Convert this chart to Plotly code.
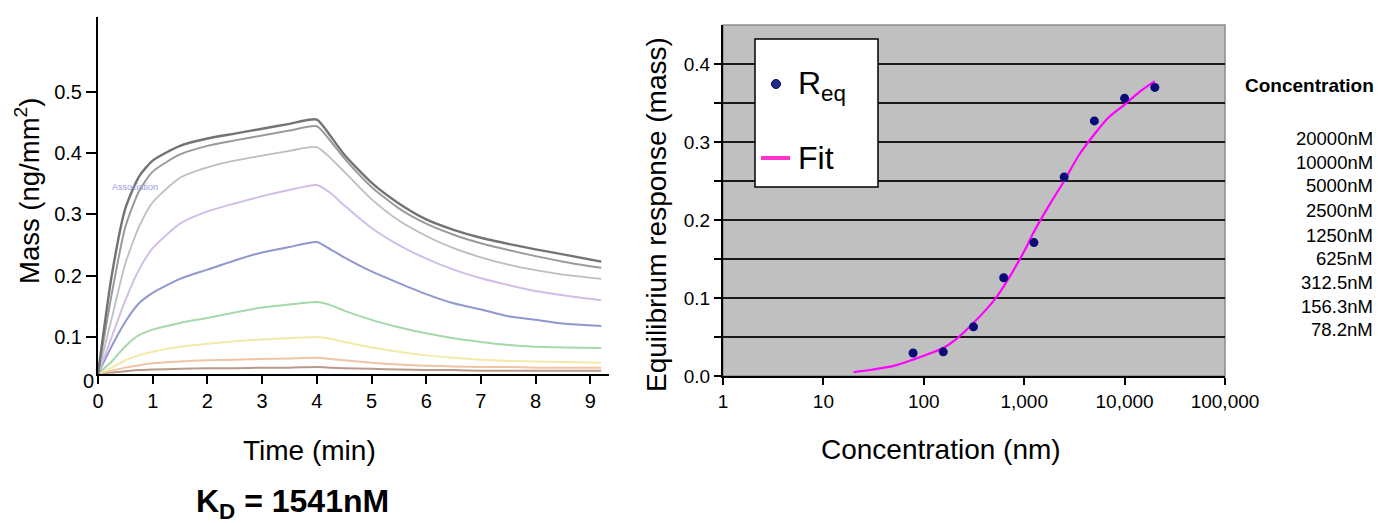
import plotly.graph_objects as go

W, H = 1378, 523

# ---------------- Left panel: sensorgrams ----------------
time_min = [0, 0.25, 0.5, 0.75, 1, 1.5, 2, 2.5, 3, 3.5, 4, 4.25, 4.5, 5, 5.5, 6, 6.5, 7, 7.5, 8, 8.5, 9.2]

mass_20000 = [0.040, 0.200, 0.310, 0.362, 0.388, 0.412, 0.424, 0.432, 0.440, 0.448, 0.455, 0.428, 0.398, 0.352, 0.318, 0.292, 0.275, 0.262, 0.252, 0.243, 0.235, 0.223]
mass_10000 = [0.040, 0.170, 0.280, 0.338, 0.370, 0.398, 0.412, 0.421, 0.429, 0.437, 0.444, 0.420, 0.392, 0.345, 0.310, 0.285, 0.267, 0.253, 0.242, 0.232, 0.223, 0.213]
mass_5000 = [0.040, 0.130, 0.220, 0.280, 0.320, 0.360, 0.377, 0.388, 0.396, 0.404, 0.410, 0.392, 0.370, 0.325, 0.290, 0.265, 0.245, 0.230, 0.218, 0.209, 0.202, 0.195]
mass_2500 = [0.040, 0.100, 0.160, 0.210, 0.245, 0.285, 0.305, 0.318, 0.330, 0.340, 0.348, 0.335, 0.315, 0.278, 0.250, 0.228, 0.210, 0.196, 0.185, 0.175, 0.168, 0.160]
mass_1250 = [0.040, 0.085, 0.125, 0.155, 0.172, 0.195, 0.210, 0.225, 0.238, 0.247, 0.255, 0.243, 0.230, 0.207, 0.188, 0.170, 0.155, 0.145, 0.134, 0.128, 0.122, 0.118]
mass_625 = [0.040, 0.060, 0.085, 0.103, 0.112, 0.123, 0.131, 0.140, 0.148, 0.153, 0.157, 0.152, 0.143, 0.128, 0.116, 0.106, 0.098, 0.092, 0.087, 0.084, 0.083, 0.082]
mass_312 = [0.040, 0.050, 0.062, 0.070, 0.076, 0.084, 0.089, 0.093, 0.096, 0.098, 0.100, 0.097, 0.092, 0.083, 0.076, 0.070, 0.066, 0.063, 0.061, 0.060, 0.059, 0.058]
mass_156 = [0.040, 0.045, 0.050, 0.054, 0.057, 0.060, 0.062, 0.063, 0.064, 0.065, 0.066, 0.064, 0.062, 0.058, 0.055, 0.053, 0.052, 0.051, 0.051, 0.050, 0.050, 0.050]
mass_78 = [0.040, 0.042, 0.044, 0.046, 0.047, 0.048, 0.049, 0.049, 0.050, 0.050, 0.051, 0.050, 0.049, 0.048, 0.047, 0.046, 0.046, 0.045, 0.045, 0.045, 0.045, 0.045]

sensorgrams = [mass_78, mass_156, mass_312, mass_625, mass_1250, mass_2500, mass_5000, mass_10000, mass_20000]
sens_colors = ["#b89a8c", "#f0c4a4", "#f2eaa6", "#a6d8ac", "#8f97cf", "#d2bde6", "#bdbdc6", "#9a9a9a", "#737373"]
sens_widths = [2, 2, 2, 2, 2, 2, 1.8, 2, 2.4]

left_y_ticks = [0.1, 0.2, 0.3, 0.4, 0.5]
left_x_ticks = [0, 1, 2, 3, 4, 5, 6, 7, 8, 9]

# ---------------- Right panel: equilibrium fit ----------------
conc_nm = [78.2, 156.3, 312.5, 625, 1250, 2500, 5000, 10000, 20000]
r_eq = [0.0295, 0.031, 0.063, 0.126, 0.171, 0.255, 0.327, 0.356, 0.370]

fit_conc = [20, 30, 50, 78, 100, 156, 200, 312, 500, 625, 1000, 1250, 2000, 2500, 3500, 5000, 7000, 10000, 14000, 20000]
fit_resp = [0.005, 0.008, 0.013, 0.021, 0.026, 0.036, 0.045, 0.068, 0.097, 0.115, 0.160, 0.185, 0.230, 0.250, 0.283, 0.310, 0.332, 0.348, 0.364, 0.378]

right_x_ticks = [1, 10, 100, 1000, 10000, 100000]
right_x_labels = ["1", "10", "100", "1,000", "10,000", "100,000"]
right_y_ticks = [0, 0.1, 0.2, 0.3, 0.4]
right_y_labels = ["0.0", "0.1", "0.2", "0.3", "0.4"]

conc_labels = ["20000nM", "10000nM", "5000nM", "2500nM", "1250nM", "625nM", "312.5nM", "156.3nM", "78.2nM"]


def px(x):
    return x / W


def py(y):
    return 1 - y / H


FONT = "Liberation Sans, Arial, sans-serif"

fig = go.Figure()

for ys, c, w in zip(sensorgrams, sens_colors, sens_widths):
    fig.add_trace(go.Scatter(x=time_min, y=ys, mode="lines", line=dict(color=c, width=w, shape="spline", smoothing=0.6),
                             xaxis="x", yaxis="y", showlegend=False, hoverinfo="skip"))

fig.add_trace(go.Scatter(x=fit_conc, y=fit_resp, mode="lines", line=dict(color="#ff00ff", width=2.2, shape="spline", smoothing=0.8),
                         xaxis="x2", yaxis="y2", showlegend=False))
fig.add_trace(go.Scatter(x=conc_nm, y=r_eq, mode="markers", marker=dict(color="#0a0a78", size=9),
                         xaxis="x2", yaxis="y2", showlegend=False))

axis_font = dict(family=FONT, size=20, color="black")

fig.update_layout(
    template="none",
    width=W, height=H, autosize=False,
    margin=dict(l=0, r=0, t=0, b=0, pad=0),
    paper_bgcolor="white", plot_bgcolor="white",
    showlegend=False,
    font=dict(family=FONT, color="black"),
    xaxis=dict(domain=[px(98), px(609)], range=[0, (609 - 98) / 54.7], anchor="y", automargin=False,
               showline=True, linecolor="black", linewidth=2, ticks="outside", ticklen=8, tickwidth=2,
               tickcolor="black", tickvals=left_x_ticks, tickfont=axis_font, showgrid=False, zeroline=False),
    yaxis=dict(domain=[py(374), py(17)], range=[0.0396, 0.6224], anchor="x", automargin=False,
               showline=True, linecolor="black", linewidth=2, ticks="outside", ticklen=10, tickwidth=2,
               tickcolor="black", tickvals=left_y_ticks, ticktext=[f"{v:.1f}" for v in left_y_ticks],
               tickfont=axis_font, showgrid=False, zeroline=False),
    xaxis2=dict(domain=[px(723), px(1225)], type="log", range=[0, 5], anchor="y2", automargin=False,
                showline=True, linecolor="black", linewidth=2, ticks="outside", ticklen=7, tickwidth=2,
                tickcolor="black", tickvals=right_x_ticks, ticktext=right_x_labels,
                tickfont=dict(family=FONT, size=19, color="black"), showgrid=False, zeroline=False),
    yaxis2=dict(domain=[py(376), py(25)], range=[0, 0.45], anchor="x2", automargin=False,
                showline=True, linecolor="black", linewidth=2, ticks="outside", ticklen=7, tickwidth=2,
                tickcolor="black", tickvals=right_y_ticks, ticktext=right_y_labels,
                tickfont=dict(family=FONT, size=19, color="black"),
                showgrid=True, gridcolor="#1a1a1a", gridwidth=2, zeroline=False,
                minor=dict(tickmode="array", tickvals=[0.05, 0.15, 0.25, 0.35], ticks="outside", ticklen=7,
                           tickwidth=2, tickcolor="black", showgrid=True, gridcolor="#1a1a1a", gridwidth=2)),
)

shapes = [
    dict(type="rect", xref="x2 domain", yref="y2 domain", x0=0, x1=1, y0=0, y1=1,
         fillcolor="#c0c0c0", line=dict(color="#8c8c8c", width=1.5), layer="below"),
    # legend box
    dict(type="rect", xref="paper", yref="paper", x0=px(755), x1=px(878), y0=py(187), y1=py(39),
         fillcolor="white", line=dict(color="black", width=1.5), layer="above"),
    dict(type="circle", xref="paper", yref="paper", x0=px(771.5), x1=px(780.5), y0=py(88.5), y1=py(79.5),
         fillcolor="#1f2d8a", line=dict(color="#0a0a40", width=1), layer="above"),
    dict(type="line", xref="paper", yref="paper", x0=px(761), x1=px(790), y0=py(158), y1=py(158),
         line=dict(color="#ff33cc", width=4), layer="above"),
]

ann = []


def A(text, x, y, size, xanchor="center", yanchor="middle", angle=0, color="black", family=FONT):
    ann.append(dict(text=text, x=px(x), y=py(y), xref="paper", yref="paper", showarrow=False,
                    xanchor=xanchor, yanchor=yanchor, textangle=angle,
                    font=dict(family=family, size=size, color=color)))


A("Mass (ng/mm<sup>2</sup>)", 27, 191, 27.5, angle=-90)
A("Time (min)", 309, 450, 28)
A("0", 88, 381, 20)
A("Association", 135, 187, 9, color="#9a9ae0")
A("<b>K<sub>D</sub> = 1541nM</b>", 292, 503, 32, family="Liberation Sans Narrow, Liberation Sans, Arial, sans-serif")

A("Equilibrium response (mass)", 656, 215, 28, angle=-90)
A("Concentration (nm)", 941, 449, 28)
A("R<sub>eq</sub>", 796, 85, 32, xanchor="left")
A("Fit", 796, 158, 32, xanchor="left")

A("<b>Concentration</b>", 1376, 86, 19, xanchor="right")
label_y = [138, 162, 186, 210, 235, 258, 282, 306, 329]
for t, yy in zip(conc_labels, label_y):
    A(t, 1375, yy, 18.5, xanchor="right")

fig.update_layout(shapes=shapes, annotations=ann)

fig.write_html("out.html", config={"displayModeBar": False},
               post_script="document.body.style.margin='0';document.body.style.padding='0';"
                           "document.body.style.overflow='hidden';")
